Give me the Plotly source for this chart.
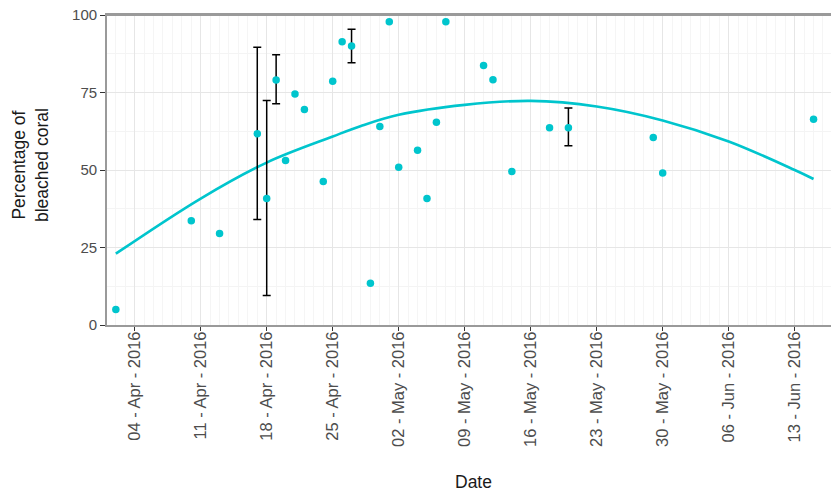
import plotly.graph_objects as go

# ---- data ----
obs_dates = ["2016-04-02", "2016-04-10", "2016-04-13", "2016-04-17", "2016-04-18",
             "2016-04-19", "2016-04-20", "2016-04-21", "2016-04-22", "2016-04-24",
             "2016-04-25", "2016-04-26", "2016-04-27", "2016-04-29", "2016-04-30",
             "2016-05-01", "2016-05-02", "2016-05-04", "2016-05-05", "2016-05-06",
             "2016-05-07", "2016-05-11", "2016-05-12", "2016-05-14", "2016-05-18",
             "2016-05-20", "2016-05-29", "2016-05-30", "2016-06-15"]
obs_values = [5.0, 33.6, 29.5, 61.7, 40.8,
              79.0, 53.1, 74.5, 69.5, 46.3,
              78.6, 91.4, 90.0, 13.5, 64.0,
              97.8, 50.9, 56.4, 40.8, 65.4,
              97.8, 83.7, 79.1, 49.5, 63.6,
              63.6, 60.5, 49.0, 66.4]

err_dates = ["2016-04-17", "2016-04-18", "2016-04-19", "2016-04-27", "2016-05-20"]
err_values = [61.7, 40.8, 79.0, 90.0, 63.6]
err_upper = [89.6, 72.4, 87.2, 95.4, 70.0]
err_lower = [34.0, 9.5, 71.4, 84.6, 57.8]

fit_dates = ["2016-04-02", "2016-04-11", "2016-04-18", "2016-04-25", "2016-04-28",
             "2016-05-02", "2016-05-09", "2016-05-16", "2016-05-23", "2016-05-30",
             "2016-06-06", "2016-06-13", "2016-06-15"]
fit_values = [23.0, 40.8, 52.4, 60.8, 64.2,
              67.8, 71.0, 72.3, 70.5, 66.0,
              59.2, 50.0, 47.1]

tick_dates = ["2016-04-04", "2016-04-11", "2016-04-18", "2016-04-25", "2016-05-02",
              "2016-05-09", "2016-05-16", "2016-05-23", "2016-05-30", "2016-06-06",
              "2016-06-13"]
y_ticks = [0, 25, 50, 75, 100]

x_title = "Date"
y_title = "Percentage of<br>bleached coral"

# ---- style ----
W, H = 831, 491
L, R, T = 107, 0, 15
B = H - 325
PW, PH = W - L - R, H - T - B
PT = "#00C5CD"
FONT = "Liberation Sans, Arial, sans-serif"

fig = go.Figure()
fig.add_trace(go.Scatter(x=fit_dates, y=fit_values, mode="lines",
                         line=dict(color=PT, width=2.6, shape="spline", smoothing=1.0),
                         hoverinfo="skip", showlegend=False))
err_plus = [u - v for u, v in zip(err_upper, err_values)]
err_minus = [v - l for v, l in zip(err_values, err_lower)]
fig.add_trace(go.Scatter(x=err_dates, y=err_values, mode="markers",
                         marker=dict(size=1, color="rgba(0,0,0,0)"),
                         error_y=dict(type="data", symmetric=False, array=err_plus,
                                      arrayminus=err_minus, color="#000000",
                                      thickness=1.5, width=4),
                         showlegend=False))
fig.add_trace(go.Scatter(x=obs_dates, y=obs_values, mode="markers",
                         marker=dict(size=7.5, color=PT, line=dict(width=0)),
                         showlegend=False))

fig.update_layout(
    width=W, height=H,
    margin=dict(l=L, r=R, t=T, b=B, pad=0, autoexpand=False),
    paper_bgcolor="white", plot_bgcolor="white",
    font=dict(family=FONT, size=15, color="#4D4D4D"),
    showlegend=False,
)
fig.update_xaxes(
    type="date", automargin=False,
    range=["2016-04-01 01:30", "2016-06-16 20:24"],
    tickvals=tick_dates, tickformat="%d - %b - %Y", tickangle=-90,
    ticks="outside", ticklen=4, tickwidth=1.2, tickcolor="#333333",
    ticklabelstandoff=-6, ticklabeloverflow="allow",
    showline=True, linecolor="#9A9A9A", linewidth=1.8, mirror=True,
    showgrid=True, gridcolor="#E6E6E6", gridwidth=1.4,
    minor=dict(dtick=86400000, tick0="2016-04-04", showgrid=True,
               gridcolor="#F5F5F5", gridwidth=0.8, ticks=""),
    zeroline=False, tickfont=dict(size=16.5, color="#4D4D4D"),
)
fig.update_yaxes(
    range=[0, 100], tickvals=y_ticks, automargin=False,
    ticks="outside", ticklen=5, tickwidth=1.2, tickcolor="#333333",
    ticklabeloverflow="allow",
    showline=True, linecolor="#9A9A9A", linewidth=1.8, mirror=False,
    showgrid=True, gridcolor="#E6E6E6", gridwidth=1.4,
    minor=dict(dtick=12.5, tick0=0, showgrid=True, gridcolor="#F4F4F4",
               gridwidth=0.8, ticks=""),
    zeroline=False, tickfont=dict(size=15, color="#4D4D4D"),
)

# top panel border
fig.add_shape(type="line", xref="paper", yref="paper", x0=0, x1=1, y0=1, y1=1,
              line=dict(color="#9A9A9A", width=1.8), layer="above")

fig.add_annotation(text=x_title, xref="paper", yref="paper",
                   x=(474 - L) / PW, y=-(482 - (H - B)) / PH,
                   showarrow=False, xanchor="center", yanchor="middle",
                   font=dict(family=FONT, size=17.5, color="#1A1A1A"))
fig.add_annotation(text=y_title, xref="paper", yref="paper",
                   x=-(L - 30) / PW, y=(H - B - 165) / PH,
                   showarrow=False, xanchor="center", yanchor="middle", textangle=-90,
                   font=dict(family=FONT, size=17.5, color="#1A1A1A"))

fig.write_html("out.html", config={"displayModeBar": False},
               post_script="document.body.style.margin='0';document.body.style.overflow='hidden';")
